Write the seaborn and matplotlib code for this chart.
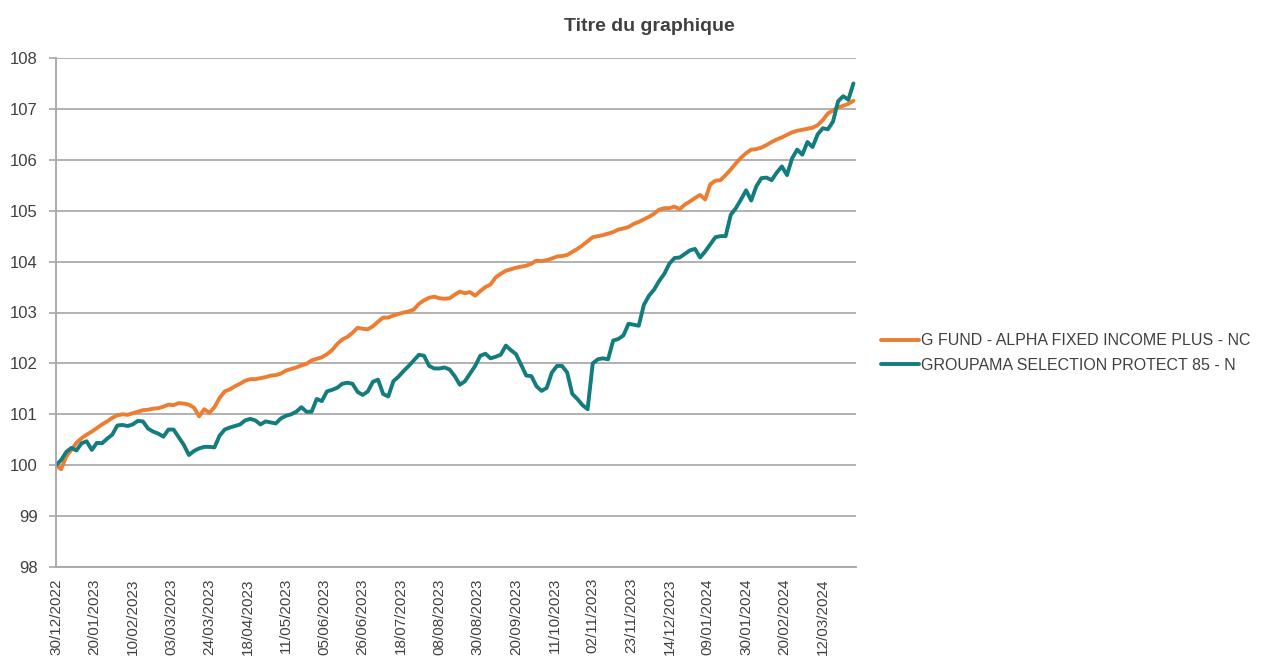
import pandas as pd
import matplotlib.pyplot as plt
import seaborn as sns

# business-day calendar used by the chart (French holidays skipped)
holidays = ['2023-04-07', '2023-04-10', '2023-05-01', '2023-05-08', '2023-05-18',
            '2023-05-29', '2023-07-14', '2023-08-15', '2023-11-01', '2023-12-25',
            '2023-12-26', '2024-01-01']
days = pd.bdate_range('2022-12-30', '2024-03-28', freq='C', holidays=holidays)

series_names = ['G FUND - ALPHA FIXED INCOME PLUS - NC',
                'GROUPAMA SELECTION PROTECT 85 - N']

# values read every 2nd business day
alpha = [100.0, 99.92, 100.17, 100.3, 100.44, 100.53, 100.6, 100.66, 100.73, 100.8,
         100.86, 100.93, 100.98, 101.0, 100.99, 101.02, 101.05, 101.08, 101.09, 101.11,
         101.12, 101.15, 101.19, 101.18, 101.22, 101.21, 101.19, 101.13, 100.96, 101.1,
         101.03, 101.14, 101.32, 101.45, 101.49, 101.55, 101.6, 101.66, 101.69, 101.69,
         101.71, 101.73, 101.76, 101.77, 101.8, 101.86, 101.89, 101.92, 101.96, 101.99,
         102.06, 102.09, 102.12, 102.18, 102.26, 102.38, 102.47, 102.52, 102.6, 102.7,
         102.68, 102.67, 102.73, 102.82, 102.9, 102.9, 102.94, 102.97, 103.0, 103.02,
         103.06, 103.17, 103.24, 103.29, 103.31, 103.28, 103.27, 103.28, 103.35, 103.41,
         103.38, 103.4, 103.33, 103.42, 103.5, 103.55, 103.69, 103.76, 103.82, 103.85,
         103.88, 103.9, 103.92, 103.96, 104.02, 104.01, 104.03, 104.06, 104.1, 104.11,
         104.13, 104.19, 104.25, 104.32, 104.4, 104.48, 104.5, 104.52, 104.55, 104.58,
         104.63, 104.65, 104.68, 104.74, 104.78, 104.83, 104.88, 104.94, 105.02, 105.05,
         105.05, 105.08, 105.03, 105.12, 105.18, 105.25, 105.31, 105.22, 105.52, 105.59,
         105.6, 105.7, 105.81, 105.93, 106.04, 106.13, 106.2, 106.21, 106.24, 106.29,
         106.35, 106.4, 106.44, 106.49, 106.54, 106.57, 106.59, 106.61, 106.63, 106.68,
         106.78, 106.91, 106.97, 107.03, 107.06, 107.1, 107.16]

protect = [100.0, 100.1, 100.26, 100.34, 100.29, 100.43, 100.47, 100.3, 100.44, 100.43,
           100.52, 100.6, 100.78, 100.79, 100.77, 100.8, 100.87, 100.86, 100.72, 100.66,
           100.62, 100.56, 100.7, 100.7, 100.55, 100.4, 100.2, 100.28, 100.33, 100.36,
           100.36, 100.35, 100.58, 100.7, 100.74, 100.77, 100.8, 100.88, 100.91, 100.88,
           100.8, 100.86, 100.84, 100.82, 100.92, 100.97, 101.0, 101.05, 101.14, 101.05,
           101.05, 101.3, 101.26, 101.45, 101.48, 101.52, 101.6, 101.62, 101.6, 101.44,
           101.38, 101.45, 101.64, 101.68, 101.4, 101.35, 101.65, 101.74, 101.85, 101.95,
           102.06, 102.17, 102.15, 101.95, 101.9, 101.9, 101.92, 101.88, 101.75, 101.58,
           101.65, 101.8, 101.95, 102.15, 102.19, 102.1, 102.13, 102.17, 102.35, 102.26,
           102.18, 101.97, 101.76, 101.75, 101.55, 101.46, 101.52, 101.82, 101.95, 101.95,
           101.82, 101.4, 101.3, 101.18, 101.1, 102.0, 102.08, 102.1, 102.08, 102.45,
           102.48, 102.55, 102.78, 102.76, 102.74, 103.15, 103.33, 103.45, 103.62, 103.76,
           103.96, 104.07, 104.08, 104.15, 104.22, 104.25, 104.08, 104.2, 104.34, 104.48,
           104.5, 104.5, 104.92, 105.05, 105.22, 105.4, 105.2, 105.48, 105.64, 105.65,
           105.6, 105.75, 105.87, 105.7, 106.03, 106.2, 106.1, 106.35, 106.25, 106.5,
           106.62, 106.6, 106.75, 107.15, 107.25, 107.18, 107.5]

pos = list(range(0, 2 * len(alpha), 2))
df = pd.concat([
    pd.DataFrame({'pos': pos, 'value': alpha, 'fund': series_names[0]}),
    pd.DataFrame({'pos': pos, 'value': protect, 'fund': series_names[1]}),
])

sns.set_style('white')
plt.rcParams['font.family'] = ['Liberation Sans', 'DejaVu Sans']

fig = plt.figure(figsize=(12.84, 6.56), dpi=100)
ax = fig.add_axes([56 / 1284, 1 - 567 / 656, 800 / 1284, 509 / 656])

colors = ['#ED7D31', '#137C7C']
sns.lineplot(data=df, x='pos', y='value', hue='fund', palette=colors,
             linewidth=2.8, ax=ax, legend=False)

ax.set_ylim(98, 108)
ax.set_yticks(range(98, 109))
ax.set_xlim(0, 313)
ax.set_xlabel('')
ax.set_ylabel('')
ax.yaxis.grid(True, color='#ABABAB', linewidth=1.3)
ax.set_axisbelow(True)

for s in ['top', 'right']:
    ax.spines[s].set_visible(False)
for s in ['left', 'bottom']:
    ax.spines[s].set_color('#A6A6A6')
    ax.spines[s].set_linewidth(1.3)

# labels every 15 business days, tick marks every 30
lab_pos = list(range(0, len(days) - 10, 15))
major = lab_pos[::2]
minor = lab_pos[1::2]
ax.set_xticks(major, [days[p].strftime('%d/%m/%Y') for p in major])
ax.set_xticks(minor, [days[p].strftime('%d/%m/%Y') for p in minor], minor=True)
ax.tick_params(axis='x', which='major', rotation=90, labelsize=11, colors='#A6A6A6',
               labelcolor='#404040', length=5, width=1.2, pad=3)
ax.tick_params(axis='x', which='minor', rotation=90, labelsize=11,
               labelcolor='#404040', length=0, pad=8)
ax.tick_params(axis='y', labelsize=12, labelcolor='#404040', colors='#A6A6A6',
               length=5, width=1.2, left=True, pad=8)

fig.text(0.506, 0.96, 'Titre du graphique', ha='center', va='center',
         fontsize=14, fontweight='bold', color='#404040')

handles = [plt.Line2D([], [], color=c, linewidth=2.8) for c in colors]
fig.legend(handles, series_names, loc='center left', bbox_to_anchor=(0.686, 0.462),
           frameon=False, fontsize=11.5, handlelength=2.4, handletextpad=0.1,
           labelspacing=0.6, borderpad=0, borderaxespad=0, labelcolor='#404040')

fig.savefig('out.png', dpi=100)
